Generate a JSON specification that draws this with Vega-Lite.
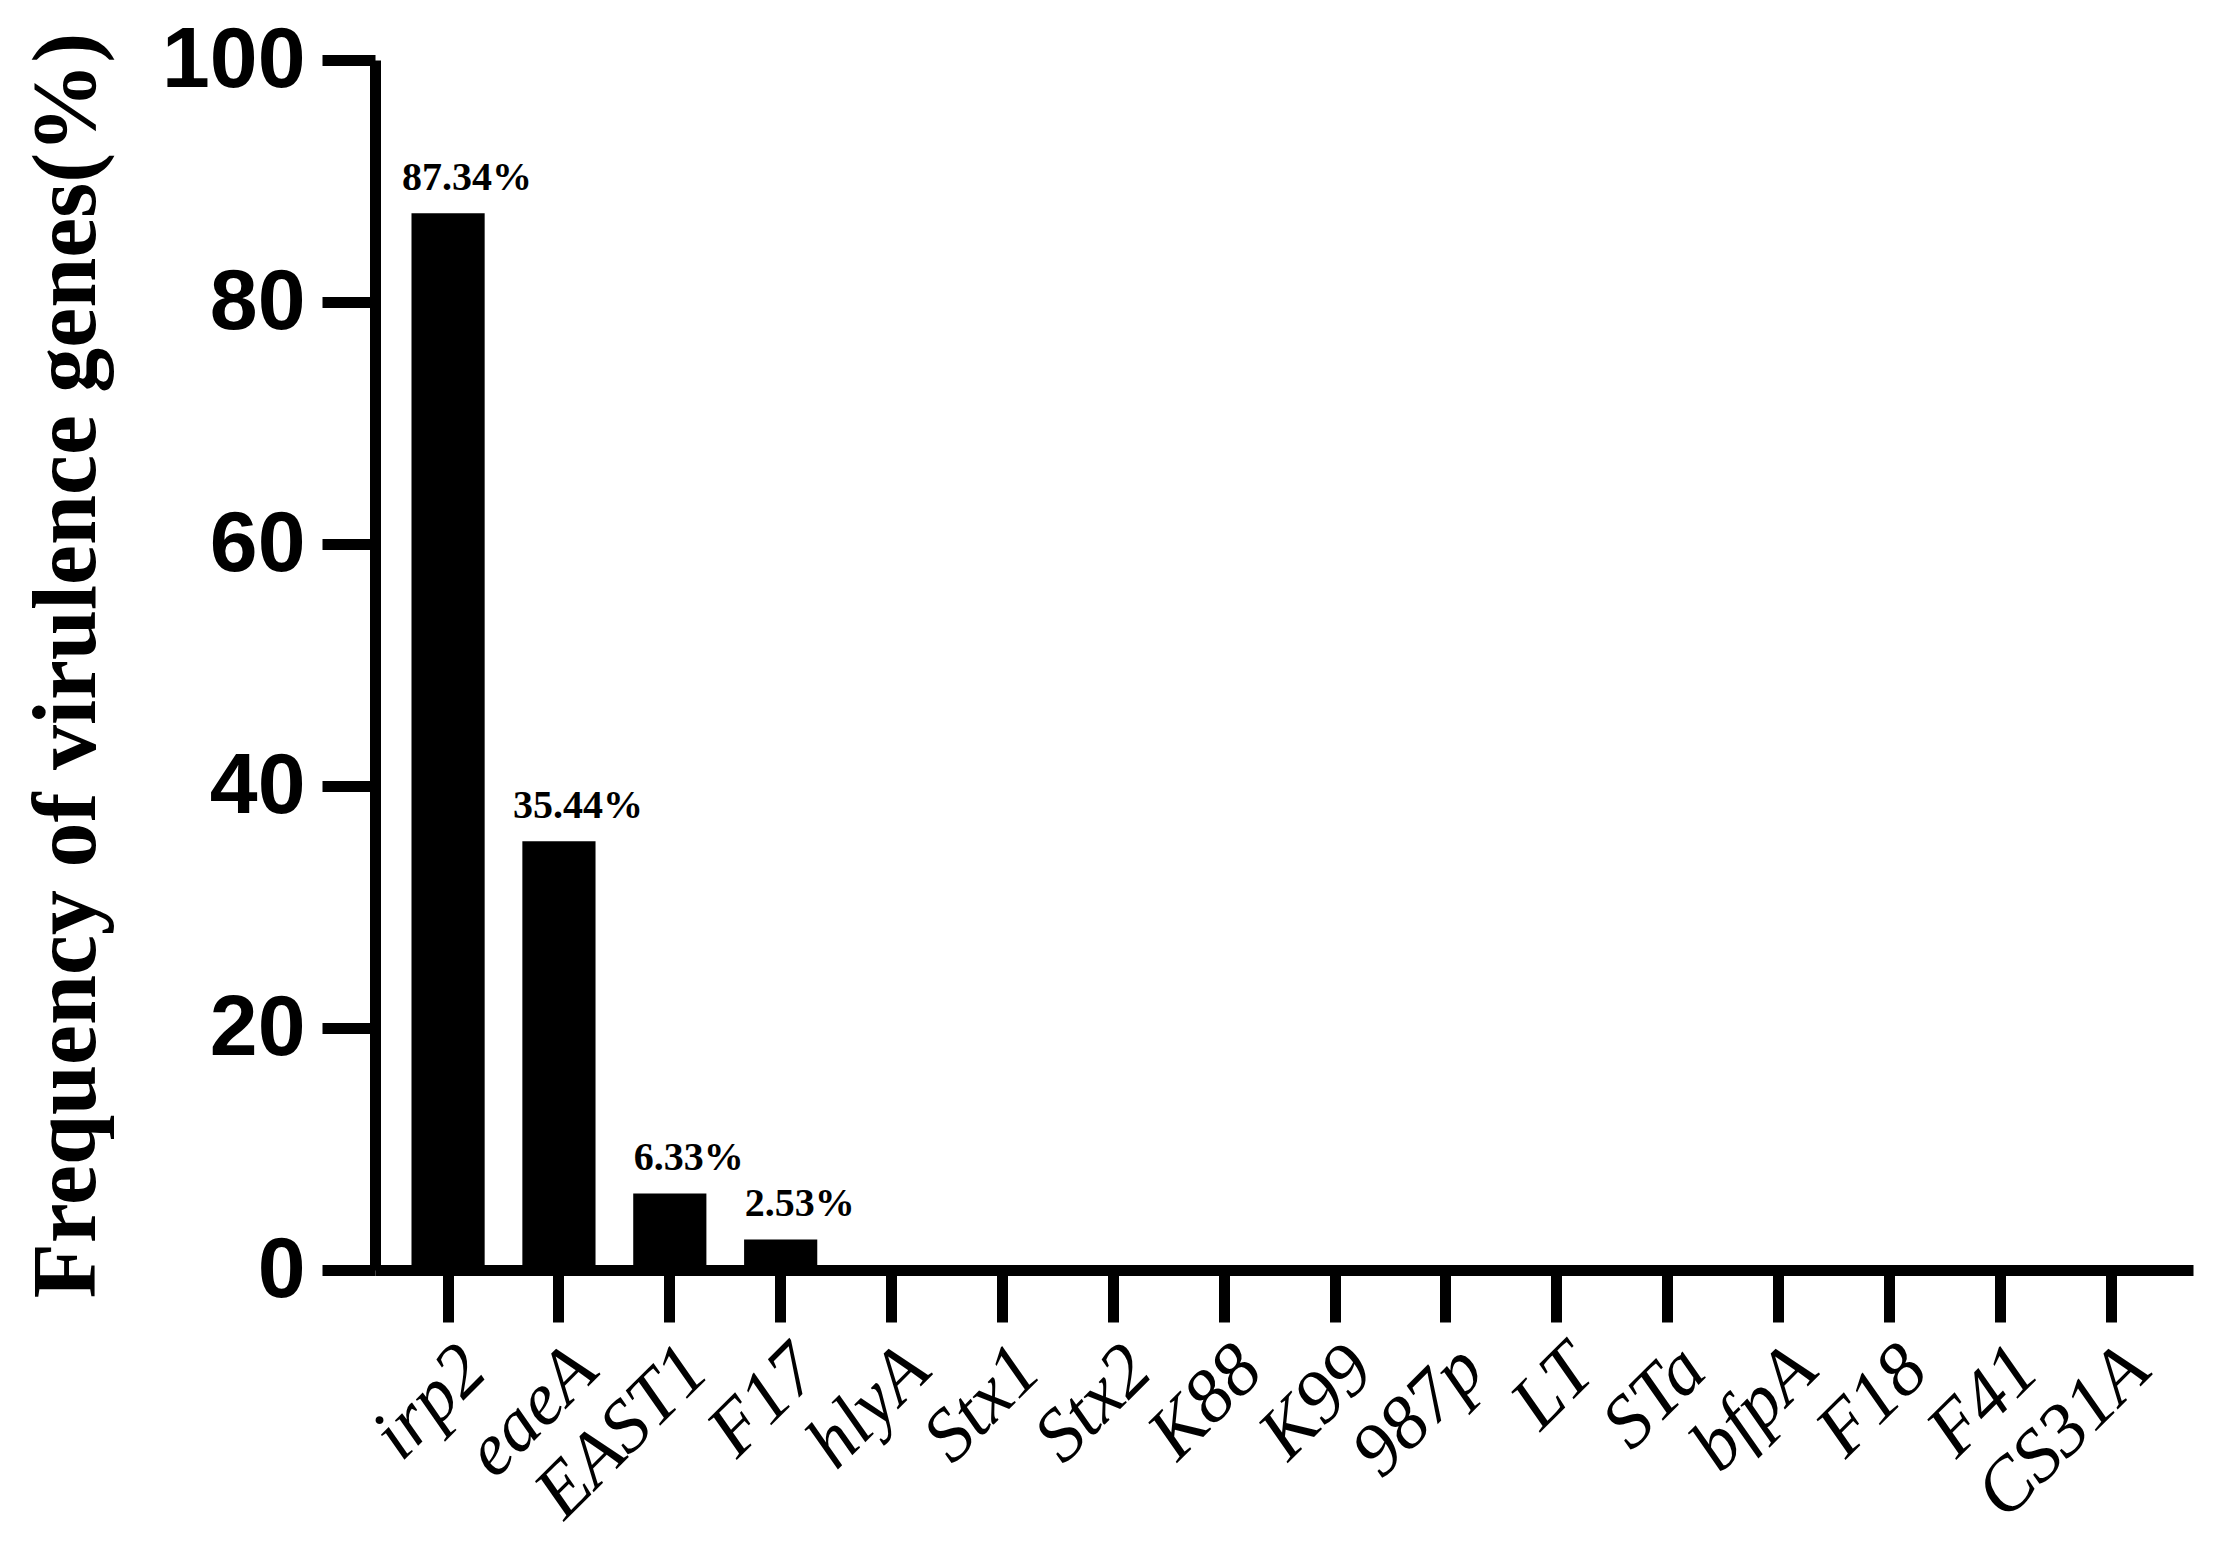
{
  "$schema": "https://vega.github.io/schema/vega-lite/v6.json",
  "width": 1818,
  "height": 1210,
  "autosize": {"type": "none"},
  "padding": {"left": 375, "top": 60, "right": 20, "bottom": 280},
  "background": "white",
  "config": {"view": {"stroke": null}},
  "data": {
    "values": [
      {"gene": "irp2", "value": 87.34, "label": "87.34%"},
      {"gene": "eaeA", "value": 35.44, "label": "35.44%"},
      {"gene": "EAST1", "value": 6.33, "label": "6.33%"},
      {"gene": "F17", "value": 2.53, "label": "2.53%"},
      {"gene": "hlyA", "value": 0, "label": ""},
      {"gene": "Stx1", "value": 0, "label": ""},
      {"gene": "Stx2", "value": 0, "label": ""},
      {"gene": "K88", "value": 0, "label": ""},
      {"gene": "K99", "value": 0, "label": ""},
      {"gene": "987p", "value": 0, "label": ""},
      {"gene": "LT", "value": 0, "label": ""},
      {"gene": "STa", "value": 0, "label": ""},
      {"gene": "bfpA", "value": 0, "label": ""},
      {"gene": "F18", "value": 0, "label": ""},
      {"gene": "F41", "value": 0, "label": ""},
      {"gene": "CS31A", "value": 0, "label": ""}
    ]
  },
  "encoding": {
    "x": {
      "field": "gene",
      "type": "nominal",
      "sort": null,
      "scale": {"paddingInner": 0.34, "paddingOuter": 0.369, "align": 0.446},
      "axis": {
        "title": null,
        "labelAngle": -45,
        "labelAlign": "right",
        "labelBaseline": "top",
        "labelFont": "Liberation Serif",
        "labelFontStyle": "italic",
        "labelFontSize": 75,
        "labelLimit": 1000,
        "labelOverlap": false,
        "labelColor": "black",
        "labelPadding": 10,
        "domainColor": "black",
        "domainWidth": 11,
        "tickColor": "black",
        "tickWidth": 11,
        "tickSize": 52
      }
    },
    "y": {
      "field": "value",
      "type": "quantitative",
      "scale": {"domain": [0, 100]},
      "axis": {
        "title": "Frequency of virulence genes(%)",
        "values": [0, 20, 40, 60, 80, 100],
        "grid": false,
        "labelFont": "Liberation Sans",
        "labelFontWeight": "bold",
        "labelFontSize": 86,
        "labelColor": "black",
        "labelPadding": 17,
        "domainColor": "black",
        "domainWidth": 11,
        "tickColor": "black",
        "tickWidth": 11,
        "tickSize": 53,
        "titleFont": "Liberation Serif",
        "titleFontWeight": "bold",
        "titleFontSize": 90,
        "titleColor": "black",
        "titlePadding": 62
      }
    }
  },
  "layer": [
    {"mark": {"type": "bar", "color": "black"}},
    {
      "transform": [{"filter": "datum.value > 0"}],
      "mark": {"type": "text", "font": "Liberation Serif", "fontWeight": "bold", "fontSize": 40, "baseline": "bottom", "dy": -15, "dx": 19, "color": "black"},
      "encoding": {"text": {"field": "label"}}
    }
  ]
}
